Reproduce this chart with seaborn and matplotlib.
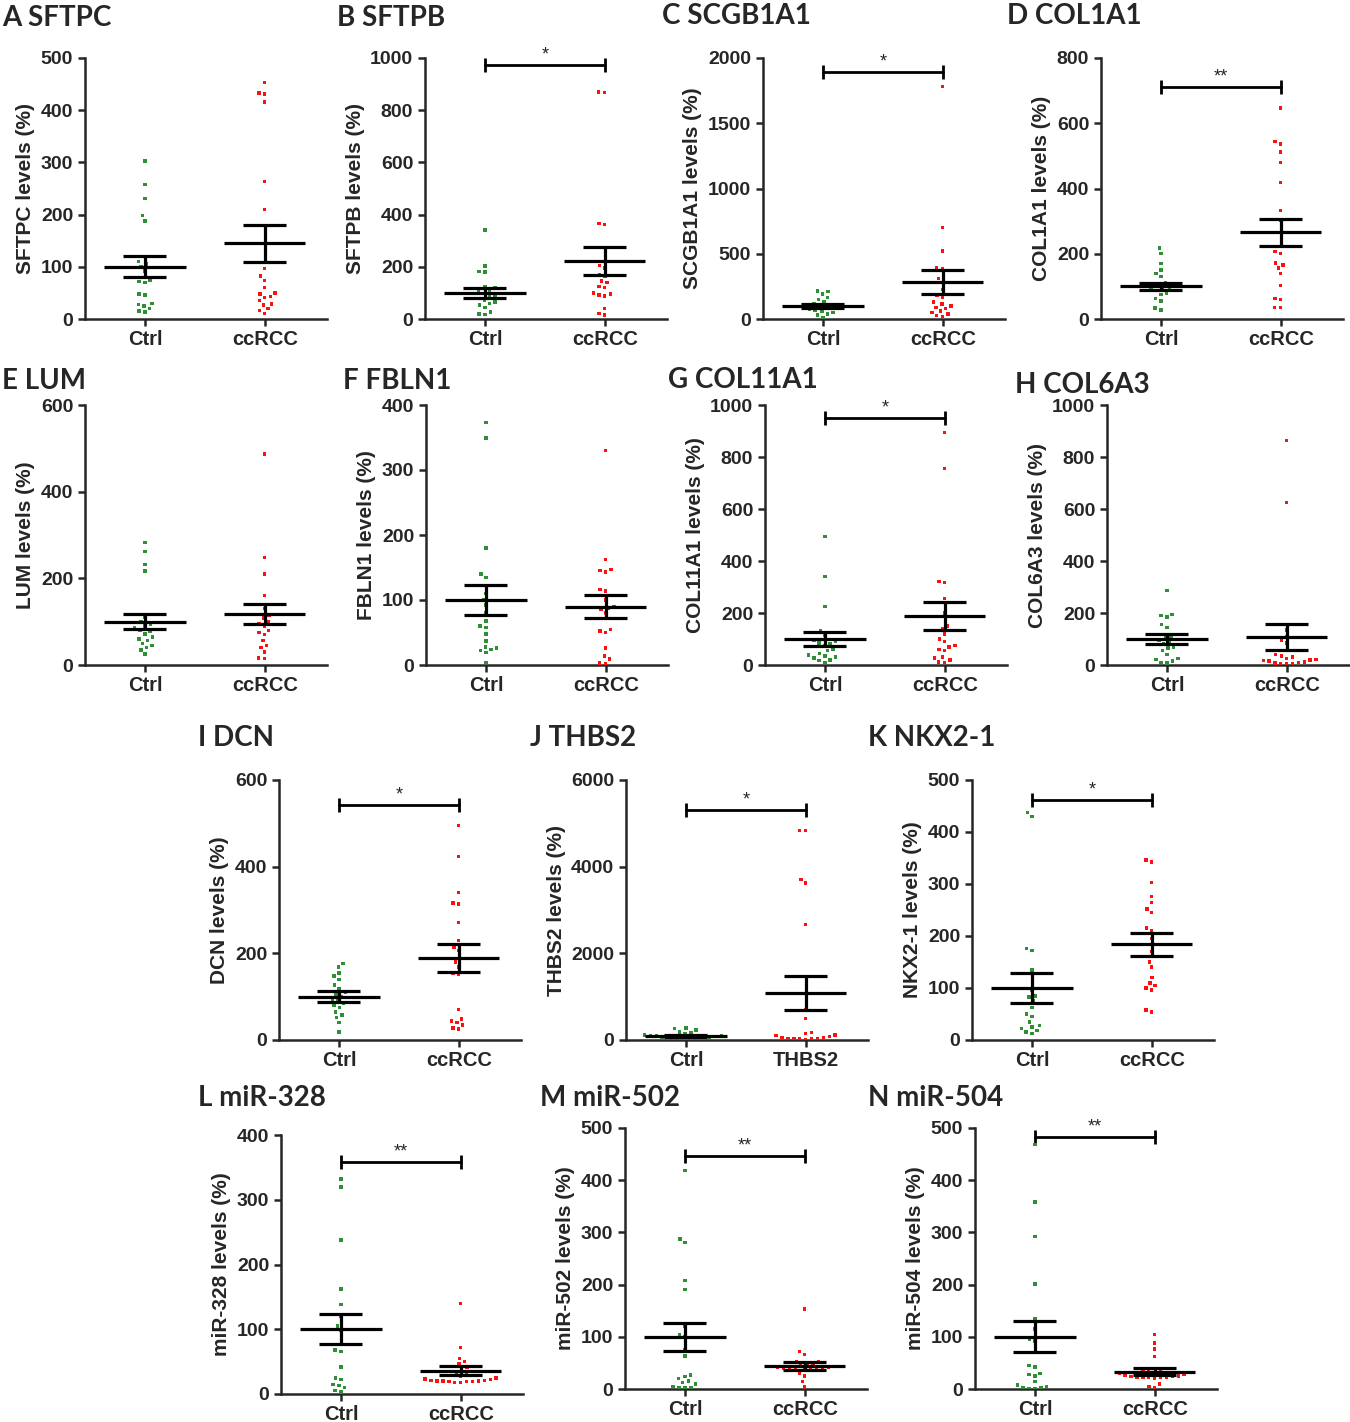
import numpy as np
import pandas as pd
import matplotlib
matplotlib.use("Agg")
import matplotlib.pyplot as plt
import seaborn as sns

sns.set_style("ticks")
plt.rcParams["font.family"] = ["Liberation Sans", "DejaVu Sans"]
plt.rcParams["font.weight"] = "bold"
plt.rcParams["axes.labelweight"] = "bold"

GREEN = "#2f8f34"
RED = "#ff1010"

# relative levels (%), one list per group
sftpc_ctrl = [303, 258, 231, 198, 188, 110, 105, 100, 92, 75, 72, 70, 48, 46, 30, 28, 25, 20, 15, 13]
sftpc_ccrcc = [453, 433, 431, 416, 263, 210, 97, 82, 74, 60, 50, 48, 43, 41, 35, 29, 27, 20, 16, 11]
sftpb_ctrl = [341, 203, 182, 180, 125, 118, 110, 105, 98, 92, 86, 79, 73, 66, 60, 54, 45, 26, 19, 18]
sftpb_ccrcc = [870, 868, 365, 362, 220, 205, 195, 170, 162, 145, 140, 125, 120, 100, 96, 92, 88, 40, 22, 15]
scgb1a1_ctrl = [215, 210, 190, 165, 150, 130, 120, 110, 100, 95, 90, 85, 80, 75, 70, 60, 50, 40, 30, 10]
scgb1a1_ccrcc = [1780, 700, 520, 390, 385, 310, 280, 225, 180, 165, 130, 115, 100, 90, 80, 60, 50, 38, 25, 20]
col1a1_ctrl = [217, 200, 170, 150, 140, 130, 110, 100, 95, 105, 100, 95, 90, 88, 80, 75, 63, 55, 33, 28]
col1a1_ccrcc = [647, 544, 537, 512, 480, 418, 332, 304, 222, 207, 200, 171, 166, 156, 140, 102, 63, 60, 35, 35]
lum_ctrl = [283, 262, 232, 217, 110, 100, 95, 90, 85, 80, 78, 72, 65, 60, 57, 50, 45, 40, 35, 25]
lum_ccrcc = [487, 248, 210, 160, 140, 130, 115, 108, 100, 95, 90, 80, 75, 70, 56, 45, 40, 30, 16, 15]
fbln1_ctrl = [373, 349, 180, 140, 135, 110, 100, 92, 80, 68, 60, 58, 48, 37, 28, 26, 24, 22, 19, 4]
fbln1_ccrcc = [330, 162, 147, 145, 143, 116, 114, 100, 90, 88, 85, 80, 55, 52, 50, 26, 14, 9, 3, 2]
col11a1_ctrl = [494, 340, 225, 130, 115, 95, 85, 90, 80, 74, 60, 55, 45, 38, 35, 30, 27, 20, 17, 10]
col11a1_ccrcc = [895, 755, 322, 318, 255, 200, 150, 140, 120, 100, 90, 75, 70, 60, 55, 30, 27, 20, 12, 10]
col6a3_ctrl = [286, 195, 190, 185, 155, 145, 110, 105, 95, 88, 80, 70, 65, 55, 40, 25, 22, 15, 10, 8]
col6a3_ccrcc = [863, 626, 135, 110, 95, 85, 40, 35, 30, 25, 22, 20, 18, 15, 12, 10, 8, 5, 4, 3]
dcn_ctrl = [176, 168, 155, 148, 140, 127, 118, 110, 105, 100, 95, 90, 85, 80, 75, 65, 58, 52, 40, 19]
dcn_ccrcc = [495, 424, 340, 316, 314, 271, 230, 215, 207, 180, 169, 155, 152, 70, 48, 44, 40, 35, 28, 25]
thbs2_ctrl = [280, 260, 230, 190, 160, 140, 120, 100, 90, 70, 90, 80, 60, 50, 40, 35, 30, 25, 20, 10]
thbs2_case = [4840, 4830, 3700, 3620, 2670, 690, 500, 170, 150, 120, 100, 80, 60, 50, 40, 35, 30, 25, 20, 15]
nkx21_ctrl = [437, 430, 176, 172, 135, 95, 85, 83, 75, 70, 62, 50, 45, 35, 28, 25, 22, 18, 15, 12]
nkx21_ccrcc = [346, 342, 303, 276, 264, 252, 245, 215, 210, 195, 170, 150, 140, 120, 110, 100, 105, 96, 58, 54]
mir328_ctrl = [332, 320, 238, 162, 138, 120, 105, 98, 68, 66, 42, 25, 22, 15, 13, 10, 5, 3]
mir328_ccrcc = [140, 72, 55, 50, 46, 42, 38, 34, 30, 28, 25, 23, 22, 21, 21, 20, 20, 20, 19, 19, 19, 18, 18]
mir502_ctrl = [419, 287, 281, 208, 191, 120, 104, 100, 75, 63, 27, 24, 20, 15, 12, 10, 5, 3, 2, 2]
mir502_ccrcc = [153, 72, 66, 52, 52, 48, 46, 44, 42, 41, 40, 40, 39, 38, 38, 37, 36, 30, 25, 14, 4]
mir504_ctrl = [468, 358, 292, 201, 135, 115, 96, 92, 45, 42, 30, 28, 25, 14, 8, 5, 3, 2, 1, 0]
mir504_ccrcc = [104, 88, 77, 62, 36, 33, 35, 32, 30, 29, 26, 25, 24, 24, 23, 23, 22, 22, 22, 21, 10, 5, 3]

letters = ["A", "B", "C", "D", "E", "F", "G", "H", "I", "J", "K", "L", "M", "N"]
genes = ["SFTPC", "SFTPB", "SCGB1A1", "COL1A1", "LUM", "FBLN1", "COL11A1", "COL6A3",
         "DCN", "THBS2", "NKX2-1", "miR-328", "miR-502", "miR-504"]
ctrl_data = [sftpc_ctrl, sftpb_ctrl, scgb1a1_ctrl, col1a1_ctrl, lum_ctrl, fbln1_ctrl, col11a1_ctrl,
             col6a3_ctrl, dcn_ctrl, thbs2_ctrl, nkx21_ctrl, mir328_ctrl, mir502_ctrl, mir504_ctrl]
case_data = [sftpc_ccrcc, sftpb_ccrcc, scgb1a1_ccrcc, col1a1_ccrcc, lum_ccrcc, fbln1_ccrcc, col11a1_ccrcc,
             col6a3_ccrcc, dcn_ccrcc, thbs2_case, nkx21_ccrcc, mir328_ccrcc, mir502_ccrcc, mir504_ccrcc]
case_names = ["ccRCC"] * 9 + ["THBS2"] + ["ccRCC"] * 4

# mean and SEM as drawn in the figure
mean_ctrl = [100, 100, 100, 100, 100, 100, 100, 100, 100, 100, 100, 100, 100, 100]
sem_ctrl = [20, 19, 12, 11, 18, 23, 28, 20, 12, 22, 28, 23, 27, 30]
mean_case = [145, 223, 280, 266, 117, 90, 190, 109, 190, 1090, 184, 36, 44, 33]
sem_case = [36, 53, 92, 42, 23, 17, 54, 50, 32, 390, 22, 7, 7, 7]

ymax = [500, 1000, 2000, 800, 600, 400, 1000, 1000, 600, 6000, 500, 400, 500, 500]
ystep = [100, 200, 500, 200, 200, 100, 200, 200, 200, 2000, 100, 100, 100, 100]
bracket_y = [None, 973, 1893, 711, None, None, 950, None, 542, 5308, 461, 358, 446, 483]
stars = ["", "*", "*", "**", "", "", "*", "", "*", "*", "*", "**", "**", "**"]

# panel placement in pixels: x of Ctrl column, top and bottom of the y axis, title x/y
W, H = 1350, 1422
ctrl_x = [145, 485, 823, 1161, 145, 486, 825, 1167, 339, 686, 1032, 341, 685, 1035]
ax_top = [58, 58, 58, 58, 405, 405, 405, 405, 780, 780, 780, 1135, 1128, 1128]
ax_bot = [319, 319, 319, 319, 665, 665, 665, 665, 1040, 1040, 1040, 1394, 1389, 1389]
title_x = [2, 337, 662, 1007, 2, 343, 668, 1015, 198, 530, 868, 198, 540, 868]
title_y = [18, 18, 16, 16, 381, 381, 380, 385, 738, 738, 738, 1098, 1098, 1098]

fig = plt.figure(figsize=(W / 100, H / 100), dpi=100)

for k in range(14):
    c_name = case_names[k]
    left = (ctrl_x[k] - 60) / W
    bottom = 1 - ax_bot[k] / H
    ax = fig.add_axes([left, bottom, 242 / W, (ax_bot[k] - ax_top[k]) / H])

    df = pd.DataFrame({
        "group": ["Ctrl"] * len(ctrl_data[k]) + [c_name] * len(case_data[k]),
        "level": ctrl_data[k] + case_data[k],
    })
    # invisible edge widens the swarm a little, like the GraphPad dot spread
    sns.swarmplot(data=df, x="group", y="level", hue="group", order=["Ctrl", c_name],
                  palette={"Ctrl": GREEN, c_name: RED}, size=2.5, marker="s",
                  linewidth=1.6, edgecolor="none", legend=False, ax=ax, zorder=7)

    # mean with SEM, drawn over the dots
    for i, (m, s) in enumerate([(mean_ctrl[k], sem_ctrl[k]), (mean_case[k], sem_case[k])]):
        ax.hlines(m, i - 0.34, i + 0.34, color="black", lw=2.3, zorder=8)
        ax.vlines(i, m - s, m + s, color="black", lw=2.3, zorder=8)
        ax.hlines([m - s, m + s], i - 0.18, i + 0.18, color="black", lw=2.3, zorder=8)

    if bracket_y[k] is not None:
        ax.plot([0, 1], [bracket_y[k], bracket_y[k]], color="black", lw=2,
                marker="|", markersize=10, mew=2, clip_on=False, zorder=6)
        ax.annotate(stars[k], (0.5, bracket_y[k]), xytext=(0, 1), textcoords="offset points",
                    ha="center", va="bottom", fontsize=13, fontweight="normal")

    ax.set_xlim(-0.5, 1.52)
    ax.set_ylim(0, ymax[k])
    ax.set_yticks(np.arange(0, ymax[k] + 1, ystep[k]))
    sns.despine(ax=ax)
    for sp in ["left", "bottom"]:
        ax.spines[sp].set_linewidth(1.8)
    ax.tick_params(axis="both", width=1.8, length=5, labelsize=14)
    ax.tick_params(axis="x", labelsize=14.5, pad=3)
    ax.set_xlabel("")
    ax.set_ylabel(f"{genes[k]} levels (%)", fontsize=15, fontweight="bold", labelpad=4)

    fig.text(title_x[k] / W, 1 - title_y[k] / H, f"{letters[k]} {genes[k]}",
             fontsize=20, fontweight="bold", ha="left", va="center",
             family=["Lato", "DejaVu Sans"])

fig.savefig("out.png", dpi=100)
